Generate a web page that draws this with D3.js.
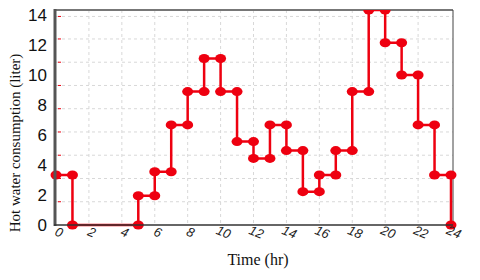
<!DOCTYPE html>
<html><head><meta charset="utf-8">
<script src="https://cdn.jsdelivr.net/npm/d3@7"></script>
<style>html,body{margin:0;padding:0;background:#fff;}svg{display:block;}</style>
</head><body><svg id="c" width="480" height="280"></svg>
<script>
// step segments: start hour, end hour, consumption (liter)
const segStart = [0, 1, 5, 6, 7, 8, 9, 10, 11, 12, 13, 14, 15, 16, 17, 18, 19, 20, 21, 22, 23];
const segEnd   = [1, 5, 6, 7, 8, 9, 10, 11, 12, 13, 14, 15, 16, 17, 18, 19, 20, 21, 22, 23, 24];
const segValue = [3.33, 0, 1.95, 3.55, 6.67, 8.89, 11.1, 8.89, 5.56, 4.44, 6.67, 4.96, 2.22, 3.33, 4.96, 8.89, 14.33, 12.15, 10, 6.67, 3.33];
const xTicks = [0, 2, 4, 6, 8, 10, 12, 14, 16, 18, 20, 22, 24];
const yTicks = [0, 2, 4, 6, 8, 10, 12, 14];
const gridY = [1.55, 3.1, 4.65, 6.2, 7.75, 9.3, 10.85, 12.4, 13.9];

const svg = d3.select("#c");
const L = 56, R = 451, T = 10, B = 225, RB = 453;
const x = d3.scaleLinear().domain([0, 24]).range([L, R]);
const y = d3.scaleLinear().domain([0, 14.33]).range([B, T]);
const red = "#ee0010";

// points of the step line
const pts = [];
segStart.forEach((s, i) => { pts.push([s, segValue[i]]); pts.push([segEnd[i], segValue[i]]); });
pts.push([24, 0]);

// grid
const g = svg.append("g");
g.selectAll("line.vg").data(xTicks.slice(1, -1)).join("line")
  .attr("x1", d => x(d)).attr("x2", d => x(d)).attr("y1", T).attr("y2", B)
  .attr("stroke", "#d8d8d8").attr("stroke-width", 1).attr("stroke-dasharray", "3,3");
g.selectAll("line.hg").data(gridY).join("line")
  .attr("x1", L).attr("x2", RB).attr("y1", d => y(d)).attr("y2", d => y(d))
  .attr("stroke", "#d8d8d8").attr("stroke-width", 1).attr("stroke-dasharray", "3,3");
g.selectAll("line.rt").data(gridY).join("line")
  .attr("x1", L + 2).attr("x2", L + 5).attr("y1", d => y(d)).attr("y2", d => y(d))
  .attr("stroke", red).attr("stroke-width", 1);

// frame
svg.append("line").attr("x1", L - 1).attr("x2", RB).attr("y1", T).attr("y2", T).attr("stroke", "#777").attr("stroke-width", 2);
svg.append("line").attr("x1", RB).attr("x2", RB).attr("y1", T).attr("y2", B).attr("stroke", "#444").attr("stroke-width", 1);

// data
svg.append("clipPath").attr("id", "cp").append("rect").attr("x", L - 6).attr("y", T).attr("width", RB - L + 12).attr("height", B - T + 8);
const dg = svg.append("g").attr("clip-path", "url(#cp)");
dg.append("path").datum(pts)
  .attr("d", d3.line().x(d => x(d[0])).y(d => y(d[1])))
  .attr("fill", "none").attr("stroke", red).attr("stroke-width", 2.5);
dg.selectAll("ellipse").data(pts).join("ellipse")
  .attr("cx", d => x(d[0])).attr("cy", d => y(d[1])).attr("rx", 5.5).attr("ry", 4.5)
  .attr("fill", red);

// axes lines
svg.append("line").attr("x1", L - 1).attr("x2", L - 1).attr("y1", T - 1).attr("y2", B + 1).attr("stroke", "#555").attr("stroke-width", 3);
svg.append("line").attr("x1", L - 2).attr("x2", RB).attr("y1", B).attr("y2", B).attr("stroke", "#333").attr("stroke-width", 1.5);

// y tick labels
svg.selectAll("text.yt").data(yTicks).join("text")
  .attr("x", 47).attr("y", d => y(d)).attr("dy", "0.36em")
  .attr("text-anchor", "end").attr("font-family", "Liberation Sans, Arial, sans-serif")
  .attr("font-size", 17).attr("fill", "#111").text(d => d);

// x tick labels
svg.selectAll("text.xt").data(xTicks).join("text")
  .attr("transform", d => `translate(${x(d) + 3},${B + 7}) rotate(22)`)
  .attr("text-anchor", "middle").attr("dy", "0.35em")
  .attr("font-family", "Liberation Sans, Arial, sans-serif").attr("font-style", "italic")
  .attr("font-size", 13).attr("fill", "#222").text(d => d);

// titles
svg.append("text").attr("x", 258).attr("y", 265).attr("text-anchor", "middle")
  .attr("font-family", "Liberation Serif, Times New Roman, serif").attr("font-size", 16).attr("fill", "#111")
  .text("Time (hr)");
svg.append("text").attr("transform", "translate(20,143) rotate(-90)").attr("text-anchor", "middle")
  .attr("font-family", "Liberation Serif, Times New Roman, serif").attr("font-size", 15).attr("fill", "#111")
  .text("Hot water consumption (liter)");
</script></body></html>
